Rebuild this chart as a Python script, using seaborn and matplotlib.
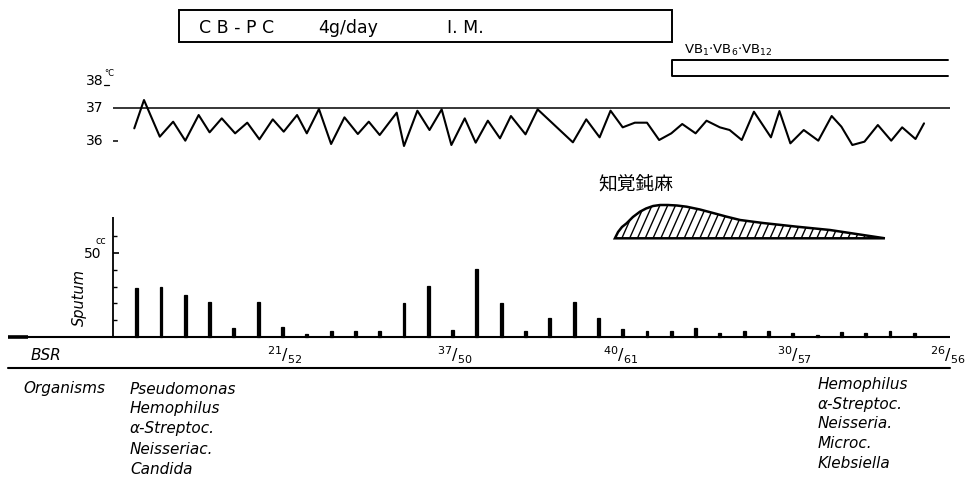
import numpy as np
import pandas as pd
import matplotlib
matplotlib.use("Agg")
import matplotlib.pyplot as plt
from matplotlib.patches import Rectangle, Polygon
import seaborn as sns

# ---------------- data ----------------
# body temperature (twice daily), x in days
temp_day = [-0.1, 0.3, 0.95, 1.5, 2.0, 2.55, 3.0, 3.5, 4.05, 4.55,
            5.05, 5.6, 6.05, 6.6, 7.0, 7.5, 8.0, 8.55, 9.1, 9.55,
            10.0, 10.7, 11.0, 11.55, 12.05, 12.55, 12.95, 13.5, 13.95, 14.45,
            14.95, 15.4, 16.0, 16.5, 17.95, 18.5, 19.05, 19.5, 20.0, 20.5,
            21.0, 21.5, 22.0, 22.45, 23.0, 23.45, 24.0, 24.4, 24.9, 25.4,
            26.1, 26.45, 26.9, 27.45, 28.05, 28.6, 29.0, 29.45, 29.95, 30.5,
            31.05, 31.5, 32.05, 32.4]
temp_val = [36.38, 37.23, 36.13, 36.58, 36.01, 36.78, 36.26, 36.68, 36.23, 36.55,
            36.05, 36.65, 36.28, 36.78, 36.23, 36.96, 35.91, 36.71, 36.21, 36.58,
            36.18, 36.85, 35.85, 36.91, 36.33, 36.95, 35.88, 36.68, 35.95, 36.61,
            36.08, 36.75, 36.20, 36.95, 35.96, 36.65, 36.11, 36.91, 36.41, 36.55,
            36.55, 36.03, 36.23, 36.51, 36.23, 36.61, 36.41, 36.33, 36.03, 36.88,
            36.11, 36.90, 35.93, 36.33, 36.01, 36.75, 36.43, 35.88, 35.98, 36.48,
            36.01, 36.41, 36.06, 36.53]

# daily sputum volume (cc)
sputum_day = list(range(33))
sputum_cc = [29, 30, 25, 20.5, 5.5, 20.5, 6, 1.5, 3.4, 3.4,
             3.4, 20, 30.5, 3.8, 40.5, 20, 3.4, 11, 21, 11,
             4.4, 3.6, 3.2, 5, 2.4, 3.2, 3.2, 2.4, 1.2, 2.6,
             2.4, 3.2, 2.4]

# hypoesthesia (知覚鈍麻) intensity curve
hypo_day = [19.68, 19.81, 19.97, 20.16, 20.42, 20.71, 20.96, 21.25, 21.54, 21.86,
            22.23, 22.63, 23.18, 23.72, 24.25, 24.83, 25.77, 27.17, 28.53, 29.89, 30.79]
hypo_val = [0, 6.3, 11.3, 15, 21.3, 26.6, 29.8, 32.3, 33.3, 33.3,
            32.8, 31.6, 28.8, 25.3, 21.8, 18.3, 15.3, 11.6, 8.3, 3.3, 0]

bsr_labels = [r"$^{21}/_{52}$", r"$^{37}/_{50}$", r"$^{40}/_{61}$", r"$^{30}/_{57}$", r"$^{26}/_{56}$"]
bsr_day = [6.1, 13.1, 19.9, 27.05, 33.4]

org_start = ["Pseudomonas", "Hemophilus", "α-Streptoc.", "Neisseriac.", "Candida"]
org_end = ["Hemophilus", "α-Streptoc.", "Neisseria.", "Microc.", "Klebsiella"]

# ---------------- layout helpers ----------------
W, H = 966, 492
X0, DX = 136.7, 24.3          # pixel of day 0, pixels per day
def px2day(px):
    return (px - X0) / DX
XLIM = (px2day(0), px2day(W))

sns.set_theme(style="white")
plt.rcParams["font.family"] = ["DejaVu Sans", "Noto Sans CJK JP"]
plt.rcParams["text.color"] = "black"

fig = plt.figure(figsize=(W / 100, H / 100), dpi=100)
def full_ax():
    ax = fig.add_axes([0, 0, 1, 1])
    ax.set_facecolor("none")
    ax.axis("off")
    return ax

ax_o = full_ax()   # pixel overlay
ax_o.set_xlim(0, W)
ax_o.set_ylim(H, 0)

# ---------------- temperature ----------------
ax_t = full_ax()
df_t = pd.DataFrame({"day": temp_day, "temp": temp_val})
sns.lineplot(data=df_t, x="day", y="temp", ax=ax_t, color="black",
             linewidth=1.5, sort=False, estimator=None)
ax_t.hlines(37, px2day(113), px2day(950), color="black", lw=1.1)
ax_t.hlines(36, px2day(113), px2day(118), color="black", lw=1.1)
ax_t.set_xlim(*XLIM)
ax_t.set_ylim(37 - (H - 107.7) / 33.3, 37 + 107.7 / 33.3)
ax_t.axis("off")

ax_o.text(86, 108, "37", fontsize=10, va="center", ha="left")
ax_o.text(86, 141, "36", fontsize=10, va="center", ha="left")
ax_o.text(86, 81, "38", fontsize=10, va="center", ha="left")
ax_o.text(104, 74, "°C", fontsize=6, va="center", ha="left")
ax_o.plot([104, 109], [85, 85], color="black", lw=0.9)

# ---------------- sputum ----------------
ax_s = full_ax()
df_s = pd.DataFrame({"day": sputum_day, "cc": sputum_cc})
sns.barplot(data=df_s, x="day", y="cc", ax=ax_s, color="black",
            saturation=1, width=0.12, errorbar=None,
            edgecolor="black", linewidth=0.9)
S0, SK = 336.7, 1.67
ax_s.set_xlim(*XLIM)
ax_s.set_ylim(-(H - S0) / SK, S0 / SK)
ax_s.hlines(0, px2day(8), px2day(950), color="black", lw=1.5)
ax_s.hlines(0, px2day(8), px2day(28), color="black", lw=2.6)
ax_s.vlines(px2day(113), 0, 71.5, color="black", lw=1.3)
for v in (10, 20, 30, 40, 60):
    ax_s.hlines(v, px2day(113), px2day(117), color="black", lw=1.0)
ax_s.hlines(50, px2day(113), px2day(119), color="black", lw=1.2)
ax_s.axis("off")

ax_o.text(84, 254, "50", fontsize=10, va="center", ha="left")
ax_o.text(96, 241, "cc", fontsize=7, va="center", ha="left")
ax_o.text(79, 297, "Sputum", fontsize=10.5, va="center", ha="center",
          rotation=90, style="italic")

# ---------------- hypoesthesia ----------------
ax_h = full_ax()
HB = 238.3
ax_h.set_xlim(*XLIM)
ax_h.set_ylim(HB - H, HB)
poly = Polygon(np.column_stack([hypo_day, hypo_val]), closed=True,
               facecolor="none", edgecolor="black", lw=1.8)
ax_h.add_patch(poly)
slope = np.tan(np.radians(66)) * DX   # px per day
for x0 in np.arange(hypo_day[0] - 1.0, hypo_day[-1], 7.8 / DX):
    ln, = ax_h.plot([x0, x0 + 40 / slope], [0, 40], color="black", lw=1.0)
    ln.set_clip_path(poly)
ax_h.axis("off")
ax_o.text(598, 185, "知覚鈍麻", fontsize=13.5, va="center", ha="left",
          family=["Noto Sans CJK JP"])

# ---------------- treatment boxes ----------------
ax_o.add_patch(Rectangle((179, 10), 493, 32, fill=False, edgecolor="black", lw=1.4))
ax_o.text(199, 28, "C B - P C", fontsize=12.5, va="center", ha="left")
ax_o.text(318, 28, "4g/day", fontsize=12.5, va="center", ha="left")
ax_o.text(447, 28, "I. M.", fontsize=12.5, va="center", ha="left")

ax_o.plot([948, 672, 672, 948], [59.5, 59.5, 76, 76], color="black", lw=1.4)
ax_o.text(684, 50, r"VB$_{1}$$\cdot$VB$_{6}$$\cdot$VB$_{12}$", fontsize=9.5,
          va="center", ha="left")

# ---------------- BSR row ----------------
ax_o.plot([8, 950], [368, 368], color="black", lw=1.5)
ax_o.text(31, 355, "BSR", fontsize=11, va="center", ha="left", style="italic")
for lab, d in zip(bsr_labels, bsr_day):
    ax_o.text(X0 + d * DX, 355, lab, fontsize=11.5, va="center", ha="center")

# ---------------- organisms ----------------
ax_o.text(23, 389, "Organisms", fontsize=11, va="center", ha="left", style="italic")
for i, s in enumerate(org_start):
    ax_o.text(130, 389 + i * 20, s, fontsize=11, va="center", ha="left", style="italic")
for i, s in enumerate(org_end):
    ax_o.text(818, 384 + i * 20, s, fontsize=11, va="center", ha="left", style="italic")

fig.savefig("out.png", dpi=100)
